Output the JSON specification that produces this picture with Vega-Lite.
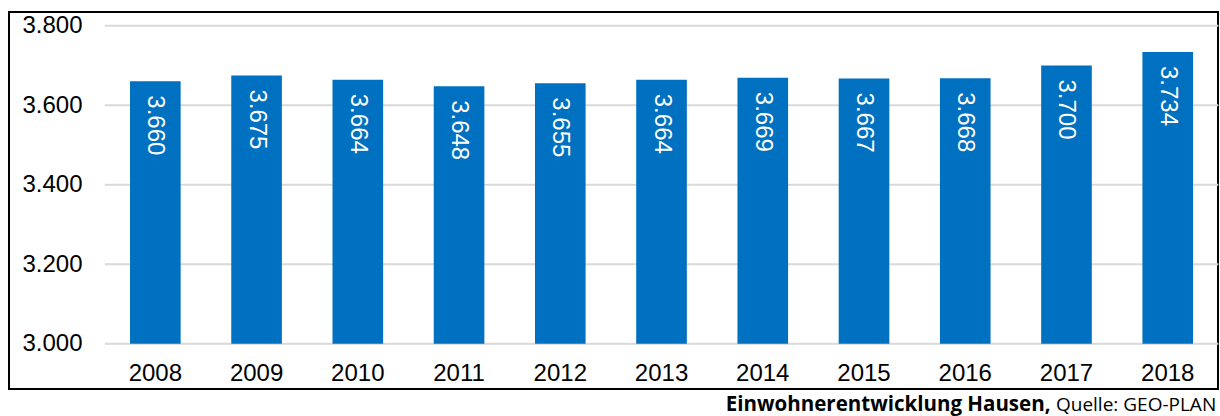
{
  "$schema": "https://vega.github.io/schema/vega-lite/v6.json",
  "width": 1209,
  "height": 377,
  "autosize": "none",
  "padding": {"left": 9, "top": 12, "right": 2, "bottom": 27},
  "background": "#ffffff",
  "config": {
    "view": {"stroke": "#000000", "strokeWidth": 2},
    "locale": {"number": {"decimal": ",", "thousands": ".", "grouping": [3], "currency": ["", " €"]}},
    "font": "Liberation Sans"
  },
  "datasets": {
    "pop": [
      {"year": "2008", "value": 3660},
      {"year": "2009", "value": 3675},
      {"year": "2010", "value": 3664},
      {"year": "2011", "value": 3648},
      {"year": "2012", "value": 3655},
      {"year": "2013", "value": 3664},
      {"year": "2014", "value": 3669},
      {"year": "2015", "value": 3667},
      {"year": "2016", "value": 3668},
      {"year": "2017", "value": 3700},
      {"year": "2018", "value": 3734}
    ],
    "grid": [
      {"g": 3000, "a": "2008", "b": "2018"},
      {"g": 3200, "a": "2008", "b": "2018"},
      {"g": 3400, "a": "2008", "b": "2018"},
      {"g": 3600, "a": "2008", "b": "2018"},
      {"g": 3800, "a": "2008", "b": "2018"}
    ]
  },
  "layer": [
    {
      "data": {"name": "grid"},
      "mark": {"type": "rule", "stroke": "#d9d9d9", "strokeWidth": 2},
      "encoding": {
        "x": {"field": "a", "type": "ordinal", "bandPosition": -0.5},
        "x2": {"field": "b", "bandPosition": 1.5},
        "y": {"field": "g", "type": "quantitative"}
      }
    },
    {
      "data": {"name": "pop"},
      "mark": {"type": "bar", "color": "#0070c0"},
      "encoding": {
        "x": {
          "field": "year",
          "type": "ordinal",
          "sort": null,
          "scale": {"paddingInner": 0.5, "paddingOuter": 0.721, "align": 0.829},
          "axis": {
            "orient": "bottom",
            "offset": -9,
            "domain": false,
            "ticks": false,
            "tickSize": 0,
            "grid": false,
            "labelAngle": 0,
            "labelAlign": "center",
            "labelPadding": 0,
            "labelBaseline": "alphabetic",
            "labelFontSize": 24,
            "labelColor": "#000000",
            "labelFont": "Liberation Sans",
            "title": "Einwohnerentwicklung Hausen,",
            "titleFont": "Open Sans",
            "titleFontSize": 20.5,
            "titleFontWeight": "bold",
            "titleColor": "#000000",
            "titleAlign": "right",
            "titleAnchor": null,
            "titleBaseline": "alphabetic",
            "titleX": 1041,
            "titleY": 30
          }
        },
        "y": {
          "field": "value",
          "type": "quantitative",
          "scale": {"domain": [2886, 3834.5], "nice": false, "zero": false},
          "axis": {
            "orient": "left",
            "offset": -95.7,
            "values": [3000, 3200, 3400, 3600, 3800],
            "format": ",d",
            "domain": false,
            "ticks": false,
            "tickSize": 0,
            "grid": false,
            "labelPadding": 22.7,
            "labelFontSize": 24,
            "labelColor": "#000000",
            "labelFont": "Liberation Sans",
            "labelBaseline": "middle",
            "title": "Quelle: GEO-PLAN",
            "titleFont": "Open Sans",
            "titleFontSize": 19,
            "titleFontWeight": "normal",
            "titleColor": "#000000",
            "titleAngle": 0,
            "titleAlign": "right",
            "titleAnchor": null,
            "titleBaseline": "alphabetic",
            "titleX": 1111,
            "titleY": 398
          }
        },
        "y2": {"datum": 3000}
      }
    },
    {
      "data": {"name": "pop"},
      "mark": {"type": "text", "angle": 90, "align": "left", "baseline": "middle", "dx": 14, "color": "#ffffff", "fontSize": 24, "font": "Liberation Sans"},
      "encoding": {
        "x": {"field": "year", "type": "ordinal", "sort": null},
        "y": {"field": "value", "type": "quantitative"},
        "text": {"field": "value", "type": "quantitative", "format": ",d"}
      }
    }
  ]
}
